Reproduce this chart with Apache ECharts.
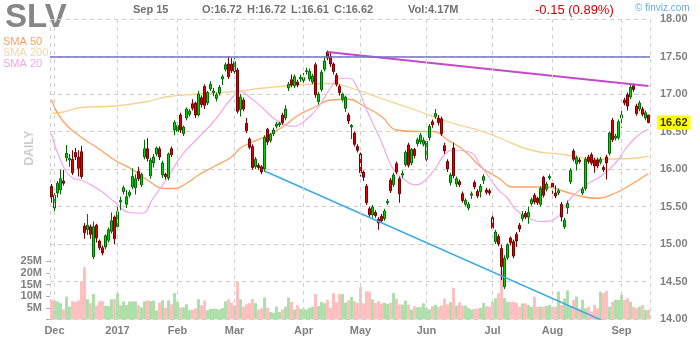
<!DOCTYPE html>
<html><head><meta charset="utf-8">
<script src="https://cdn.jsdelivr.net/npm/echarts@6/dist/echarts.min.js"></script>
<style>html,body{margin:0;padding:0;background:#fff}#c{width:700px;height:340px}</style>
</head><body><div id="c"></div>
<script>
const FONT = '"Liberation Sans", Arial, sans-serif';
const holidays = ['2016-12-26','2017-01-02','2017-01-16','2017-02-20','2017-04-14','2017-05-29','2017-07-04','2017-09-04'];
function tradingDays(s, e) {
  const out = []; let d = new Date(s + 'T00:00:00Z'); const end = new Date(e + 'T00:00:00Z');
  while (d <= end) {
    const wd = d.getUTCDay(); const iso = d.toISOString().slice(0, 10);
    if (wd !== 0 && wd !== 6 && holidays.indexOf(iso) < 0) out.push(iso);
    d = new Date(d.getTime() + 86400000);
  }
  return out;
}
const dates = tradingDays('2016-11-30', '2017-09-15');
const monthNames = ['2017','Feb','Mar','Apr','May','Jun','Jul','Aug','Sep','Oct','Nov','Dec'];

const open = [
15.77,15.48,15.68,15.72,15.84,16.15,16.12,16.13,16.22,16.16,
16.23,15.24,15.19,15.23,14.83,15.25,15.04,14.95,14.96,15.05,
15.17,15.36,15.23,15.56,15.70,15.53,15.65,15.76,15.75,15.97,
15.79,16.16,16.27,15.91,16.08,16.20,16.27,15.92,15.93,15.88,
16.27,16.52,16.50,16.72,16.47,16.68,16.73,16.87,16.88,16.72,
16.95,17.10,16.88,17.07,17.02,16.94,17.01,17.20,17.33,17.40,
17.40,17.30,17.32,16.79,16.92,16.61,16.40,16.30,16.03,16.05,
16.03,16.00,16.53,16.38,16.47,16.57,16.59,16.72,16.68,17.08,
17.19,17.11,17.16,17.20,17.18,17.30,17.20,17.16,17.39,16.90,
17.06,17.33,17.56,17.50,17.40,17.25,17.10,16.93,16.81,16.72,
16.56,16.48,16.30,16.20,15.96,15.77,15.47,15.39,15.42,15.33,
15.37,15.34,15.55,15.85,15.79,16.07,15.87,15.92,16.06,16.32,
16.08,16.26,16.34,16.36,16.33,16.13,16.42,16.63,16.70,16.68,
16.67,16.31,16.10,15.82,16.28,15.80,15.83,15.67,15.53,15.48,
15.65,15.82,15.70,15.70,15.85,15.72,15.71,15.35,15.03,15.10,
14.94,14.43,14.82,15.08,15.03,15.13,15.25,15.34,15.41,15.36,
15.54,15.65,15.61,15.53,15.89,15.73,15.88,15.81,15.68,15.68,
15.53,15.23,15.48,15.83,16.24,16.07,16.12,15.68,15.74,16.16,
16.19,16.12,16.12,16.09,16.02,16.16,16.21,16.65,16.41,16.42,
16.68,16.92,16.99,16.96,17.11,16.84,16.80,16.80,16.68,16.72];
const close = [
15.63,15.65,15.81,15.87,15.81,16.21,16.14,15.95,16.16,16.01,
15.90,15.15,15.25,15.13,15.23,15.08,14.95,14.88,15.11,15.19,
15.31,15.07,15.43,15.58,15.75,15.63,15.69,15.90,15.87,15.87,
15.93,16.27,16.14,16.12,16.16,16.28,16.16,16.08,15.90,16.20,
16.19,16.62,16.58,16.52,16.56,16.80,16.77,16.81,16.72,17.00,
16.86,16.85,17.02,17.13,17.04,16.99,17.09,17.23,17.39,17.23,
17.31,17.43,16.77,16.96,16.80,16.51,16.29,16.02,16.13,16.02,
15.96,16.42,16.36,16.46,16.52,16.60,16.61,16.62,16.80,17.13,
17.12,17.23,17.12,17.22,17.22,17.31,17.30,17.24,16.99,17.00,
17.29,17.44,17.48,17.40,17.30,17.13,17.02,17.00,16.96,16.64,
16.58,16.33,16.25,15.95,15.89,15.55,15.39,15.49,15.38,15.28,
15.31,15.44,15.57,15.71,15.92,15.96,15.67,15.94,16.22,16.05,
16.26,16.18,16.39,16.45,16.38,16.37,16.57,16.59,16.74,16.62,
16.47,16.24,16.00,15.92,15.91,15.87,15.79,15.58,15.58,15.53,
15.67,15.76,15.64,15.77,15.90,15.69,15.68,15.21,15.16,15.00,
14.70,14.81,14.99,15.02,14.84,15.04,15.20,15.39,15.36,15.42,
15.59,15.56,15.55,15.74,15.65,15.80,15.90,15.76,15.64,15.71,
15.36,15.32,15.54,15.98,16.13,16.15,16.10,15.73,16.13,16.10,
16.08,16.04,16.04,16.13,15.99,16.08,16.48,16.39,16.44,16.63,
16.72,16.88,16.84,17.09,17.06,16.74,16.88,16.73,16.75,16.62];
const low = [
15.55,15.43,15.62,15.66,15.78,16.10,16.03,15.92,16.12,15.90,
15.87,15.07,15.12,15.07,14.80,15.02,14.92,14.85,14.93,15.02,
15.14,15.00,15.20,15.45,15.66,15.48,15.62,15.73,15.66,15.84,
15.76,16.13,16.10,15.87,16.02,16.17,16.12,15.88,15.86,15.85,
16.16,16.45,16.46,16.48,16.44,16.65,16.70,16.78,16.68,16.70,
16.82,16.80,16.85,17.04,16.97,16.90,16.98,17.12,17.30,17.20,
17.28,17.27,16.74,16.70,16.77,16.48,16.26,15.99,16.00,15.99,
15.93,15.96,16.32,16.35,16.44,16.54,16.56,16.59,16.65,17.04,
17.09,17.08,17.09,17.16,17.15,17.26,17.17,17.13,16.95,16.86,
17.03,17.30,17.45,17.36,17.26,17.10,16.98,16.90,16.76,16.60,
16.40,16.30,16.22,15.90,15.84,15.52,15.36,15.35,15.35,15.19,
15.28,15.31,15.52,15.68,15.76,15.93,15.55,15.88,16.03,16.02,
16.05,16.14,16.30,16.33,16.30,16.10,16.38,16.55,16.67,16.58,
16.44,16.20,15.96,15.78,15.88,15.76,15.76,15.55,15.50,15.45,
15.60,15.73,15.61,15.62,15.80,15.66,15.65,15.18,15.00,14.97,
14.52,14.40,14.79,14.98,14.81,14.96,15.16,15.30,15.33,15.27,
15.51,15.53,15.52,15.50,15.62,15.70,15.85,15.67,15.61,15.65,
15.30,15.20,15.40,15.80,16.10,15.98,16.07,15.65,15.71,16.07,
16.05,15.95,16.01,16.06,15.96,15.86,16.18,16.36,16.38,16.39,
16.55,16.85,16.78,16.93,17.03,16.71,16.77,16.70,16.65,16.61];
const high = [
15.80,15.68,15.84,15.99,15.99,16.32,16.20,16.25,16.28,16.25,
16.31,15.28,15.40,15.26,15.30,15.27,15.06,14.98,15.13,15.22,
15.42,15.38,15.55,15.63,15.78,15.72,15.72,16.01,15.93,16.03,
15.95,16.39,16.41,16.15,16.20,16.30,16.30,16.11,15.95,16.22,
16.30,16.65,16.62,16.75,16.58,16.82,16.80,16.93,16.90,17.04,
16.98,17.13,17.04,17.17,17.08,17.02,17.12,17.26,17.42,17.50,
17.48,17.48,17.35,17.00,16.95,16.68,16.42,16.33,16.16,16.08,
16.05,16.45,16.55,16.48,16.55,16.63,16.63,16.75,16.85,17.16,
17.26,17.26,17.19,17.26,17.28,17.35,17.34,17.27,17.42,17.03,
17.32,17.50,17.58,17.55,17.42,17.28,17.13,17.02,16.98,16.75,
16.60,16.50,16.33,16.22,15.98,15.80,15.50,15.52,15.45,15.36,
15.40,15.47,15.60,15.88,15.95,16.10,15.90,15.98,16.25,16.35,
16.28,16.28,16.42,16.48,16.42,16.40,16.60,16.66,16.80,16.72,
16.70,16.35,16.13,15.95,16.35,15.90,15.86,15.70,15.61,15.56,
15.70,15.85,15.73,15.80,15.93,15.75,15.74,15.38,15.19,15.13,
14.99,14.85,15.01,15.10,15.06,15.16,15.28,15.44,15.44,15.50,
15.62,15.68,15.63,15.77,15.91,15.83,15.93,15.85,15.78,15.74,
15.56,15.35,15.58,16.01,16.27,16.18,16.15,15.76,16.16,16.19,
16.22,16.15,16.15,16.16,16.05,16.19,16.50,16.68,16.47,16.66,
16.80,16.95,17.02,17.12,17.14,16.87,16.91,16.83,16.78,16.72];
const volumeM = [
8.5,8.0,7.8,7.0,4.3,9.8,5.5,7.9,7.5,8.2,
16.4,22.5,8.7,7.0,10.9,6.1,7.8,7.9,5.8,5.8,
8.7,8.7,11.3,6.1,7.8,6.2,7.7,7.8,7.8,6.1,
5.2,7.8,8.2,7.9,8.1,3.9,7.2,8.2,5.1,8.2,
6.5,11.3,7.5,5.2,5.2,6.5,4.0,4.3,4.8,8.7,
6.1,8.2,4.0,4.6,4.6,4.6,4.3,4.9,7.8,8.7,
7.2,6.1,16.2,8.7,5.5,6.5,7.0,8.7,7.0,4.3,
4.8,9.4,5.1,3.2,2.9,5.5,3.2,4.3,5.5,9.4,
7.5,4.3,6.1,4.6,4.6,4.3,5.1,5.5,10.9,5.8,
7.5,7.0,8.4,5.1,11.3,7.5,10.9,10.9,7.2,8.2,
9.7,7.9,7.0,13.9,6.9,12.1,12.0,8.6,7.1,7.9,
6.9,7.1,6.7,7.1,11.4,8.9,6.4,6.4,8.1,6.4,
4.3,5.7,5.3,5.3,6.9,5.0,4.3,5.7,6.3,5.4,
6.0,8.9,6.5,7.4,13.6,6.0,7.4,6.0,6.0,5.0,
4.3,4.6,4.6,5.0,7.1,5.7,5.5,7.6,9.1,11.2,
21.0,9.2,7.6,7.6,7.6,7.2,5.5,6.9,6.9,6.2,
5.5,9.8,5.5,5.5,5.5,5.8,6.2,5.5,5.5,12.0,
6.2,9.0,12.5,5.5,8.4,9.8,4.8,8.4,4.8,5.5,
3.4,6.2,4.8,11.9,11.3,12.3,5.5,7.6,8.4,8.4,
10.5,8.4,9.1,7.6,5.5,4.8,5.5,6.2,4.1,4.17];

// moving averages at sample days: [dayIndex, value]
const sma50 = [[0,16.92],[4,16.63],[10,16.42],[15,16.29],[21,16.12],[27,15.99],[32,15.85],[38,15.74],[41,15.74],[45,15.81],[49,15.92],[54,16.03],[60,16.16],[63,16.28],[67,16.36],[71,16.43],[77,16.56],[82,16.71],[88,16.83],[93,16.92],[99,16.93],[104,16.84],[110,16.70],[115,16.52],[121,16.50],[127,16.50],[132,16.39],[138,16.23],[143,16.03],[149,15.88],[154,15.76],[160,15.76],[165,15.76],[171,15.70],[177,15.63],[182,15.61],[188,15.68],[193,15.79],[199,15.94]];
const sma200 = [[0,16.74],[4,16.76],[10,16.82],[21,16.84],[32,16.90],[38,16.96],[49,17.00],[60,17.03],[71,17.08],[82,17.12],[93,17.14],[99,17.09],[110,16.94],[121,16.79],[132,16.63],[143,16.51],[149,16.42],[160,16.25],[171,16.19],[182,16.13],[193,16.14],[199,16.17]];
const sma20 = [[0,16.47],[3,16.12],[7,15.88],[10,15.85],[16,15.72],[21,15.56],[26,15.42],[30,15.41],[34,15.62],[39,15.90],[43,16.16],[49,16.42],[54,16.63],[60,16.94],[63,17.03],[66,16.96],[71,16.79],[75,16.65],[81,16.57],[84,16.63],[89,16.83],[93,17.08],[96,17.21],[99,17.21],[102,17.08],[105,16.79],[110,16.36],[114,15.99],[118,15.85],[121,15.79],[124,15.83],[128,16.01],[131,16.19],[134,16.25],[139,16.23],[143,16.05],[146,15.88],[149,15.72],[152,15.61],[155,15.45],[160,15.33],[164,15.30],[168,15.34],[171,15.50],[174,15.65],[179,15.81],[183,15.90],[188,16.08],[191,16.25],[195,16.43],[199,16.53]];
// trendlines: [dayIndex, price]
const resistLine = [[92,17.56],[199,17.108]];
const supportLine = [[71,15.973],[185,13.955]];
const hLevel = 17.5;
const header = {ticker:'SLV', date:'Sep 15', o:'16.72', h:'16.72', l:'16.61', c:'16.62', vol:'4.17M', change:'-0.15 (0.89%)'};

const monthIdx = []; const monthLabel = {};
for (let i = 1; i < dates.length; i++) {
  const m = +dates[i].slice(5,7), pm = +dates[i-1].slice(5,7);
  if (m !== pm) { monthIdx.push(i); monthLabel[i] = m === 1 ? '2017' : monthNames[m-1]; }
}
const monthSet = new Set(monthIdx);
const candles = dates.map((d,i)=>[open[i], close[i], low[i], high[i]]);
const volData = dates.map((d,i)=>({value: volumeM[i], itemStyle:{color: close[i] >= open[i] ? '#aadea5' : '#ffbcbc'}}));
const pairs = arr => arr.map(p => [dates[p[0]], p[1]]);
const last = close[close.length-1];

const chart = echarts.init(document.getElementById('c'), null, {renderer:'canvas'});
const lblStyle = {color:'#808080', fontSize:11, fontWeight:'bold', fontFamily:FONT};
chart.setOption({
  animation:false,
  textStyle:{fontFamily:FONT},
  grid:[{left:50, width:600, top:19, height:300}, {left:50, width:600, top:261.2, height:58.3}],
  xAxis:[
    {type:'category', gridIndex:0, data:dates, boundaryGap:true,
     axisLine:{show:false}, axisTick:{show:false}, splitLine:{show:false},
     axisLabel:Object.assign({interval:(i)=>monthSet.has(i), formatter:(v,i)=>monthLabel[i]||'', margin:6}, lblStyle)},
    {type:'category', gridIndex:1, data:dates, boundaryGap:true, show:false},
    {type:'value', gridIndex:0, min:0, max:1, interval:1, position:'top',
     axisLine:{show:false}, axisTick:{show:false}, axisLabel:{show:false},
     splitLine:{show:true, lineStyle:{color:'#cfcfcf', type:[4,4]}}}
  ],
  yAxis:[
    {type:'value', gridIndex:0, position:'right', min:14, max:18, interval:0.5,
     axisLine:{show:false}, axisTick:{show:false},
     axisLabel:Object.assign({formatter:v=>v.toFixed(2), margin:10}, lblStyle),
     splitLine:{show:true, lineStyle:{color:'#cfcfcf', type:[4,4]}}},
    {type:'value', gridIndex:1, position:'left', min:0, max:25, interval:5,
     axisLine:{show:false}, axisTick:{show:true, length:4, lineStyle:{color:'#b0b0b0'}},
     axisLabel:Object.assign({formatter:v=>v===0?'':v+'M', margin:8}, lblStyle),
     splitLine:{show:false}}
  ],
  series:[
    {type:'bar', xAxisIndex:1, yAxisIndex:1, data:volData, barCategoryGap:'5%', z:1, silent:true},
    {type:'line', xAxisIndex:0, yAxisIndex:0, data:pairs(sma200), smooth:true, showSymbol:false, lineStyle:{color:'#f5d28f', width:1.3}, z:2, silent:true},
    {type:'line', xAxisIndex:0, yAxisIndex:0, data:pairs(sma50), smooth:true, showSymbol:false, lineStyle:{color:'#ffa262', width:1.3}, z:2, silent:true},
    {type:'line', xAxisIndex:0, yAxisIndex:0, data:pairs(sma20), smooth:true, showSymbol:false, lineStyle:{color:'#f4a6ea', width:1.2}, z:2, silent:true},
    {type:'candlestick', xAxisIndex:0, yAxisIndex:0, data:candles, barWidth:2.6, z:3,
     itemStyle:{color:'#00d400', borderColor:'#006a00', color0:'#dd0000', borderColor0:'#7a0000', borderWidth:1},
     markLine:{silent:true, symbol:['none','none'], animation:false,
       data:[
         ...monthIdx.map(i=>({xAxis:dates[i], lineStyle:{color:'#cfcfcf', type:[4,4], width:1}, label:{show:false}})),
         {yAxis:hLevel, lineStyle:{color:'#7373c4', type:'solid', width:1.5}, label:{show:false}}
       ]}},
    {type:'line', xAxisIndex:0, yAxisIndex:0, data:pairs(resistLine), showSymbol:false, lineStyle:{color:'#c34bc9', width:2}, z:4, silent:true},
    {type:'line', xAxisIndex:0, yAxisIndex:0, data:pairs(supportLine), showSymbol:false, lineStyle:{color:'#3aa9e8', width:1.5}, z:4, silent:true, clip:true},
    {type:'line', xAxisIndex:0, yAxisIndex:0, data:[], z:5, silent:true,
     markLine:{silent:true, symbol:['none','none'], animation:false,
       lineStyle:{color:'rgba(255,255,255,0)', width:0.1, type:'solid'},
       label:{show:true, position:'end', distance:7, formatter:p=>p.value.toFixed(2),
         backgroundColor:'#ffff00', color:'#333333', fontWeight:'bold', fontSize:11, fontFamily:FONT, padding:[2,3,1,3]},
       data:[{yAxis:last}]}}
  ],
  graphic:[
    {type:'text', x:5, y:18, style:{text:header.ticker, font:'bold 33px '+FONT, fill:'#868686', textVerticalAlign:'middle'}},
    {type:'text', x:133, y:10, style:{text:header.date, font:'bold 11px '+FONT, fill:'#707070', textVerticalAlign:'middle'}},
    {type:'text', x:202, y:10, style:{text:'O:'+header.o, font:'bold 11px '+FONT, fill:'#707070', textVerticalAlign:'middle'}},
    {type:'text', x:247, y:10, style:{text:'H:'+header.h, font:'bold 11px '+FONT, fill:'#707070', textVerticalAlign:'middle'}},
    {type:'text', x:291, y:10, style:{text:'L:'+header.l, font:'bold 11px '+FONT, fill:'#707070', textVerticalAlign:'middle'}},
    {type:'text', x:334, y:10, style:{text:'C:'+header.c, font:'bold 11px '+FONT, fill:'#707070', textVerticalAlign:'middle'}},
    {type:'text', x:408, y:10, style:{text:'Vol:'+header.vol, font:'bold 11px '+FONT, fill:'#707070', textVerticalAlign:'middle'}},
    {type:'text', x:535, y:10, style:{text:header.change, font:'13px '+FONT, fill:'#d40000', textVerticalAlign:'middle'}},
    {type:'text', x:635, y:8, style:{text:'© finviz.com', font:'10px '+FONT, fill:'#6aaee0', textVerticalAlign:'middle'}},
    {type:'text', x:3, y:42, style:{text:'SMA 50', font:'11px '+FONT, fill:'#ffa060', textVerticalAlign:'middle'}},
    {type:'text', x:3, y:53, style:{text:'SMA 200', font:'11px '+FONT, fill:'#f3d6a6', textVerticalAlign:'middle'}},
    {type:'text', x:3, y:64, style:{text:'SMA 20', font:'11px '+FONT, fill:'#f2a6e8', textVerticalAlign:'middle'}},
    {type:'text', x:30, y:148, rotation:Math.PI/2, style:{text:'DAILY', font:'bold 12px '+FONT, fill:'#cccccc', textAlign:'center', textVerticalAlign:'middle'}}
  ]
});
</script></body></html>
